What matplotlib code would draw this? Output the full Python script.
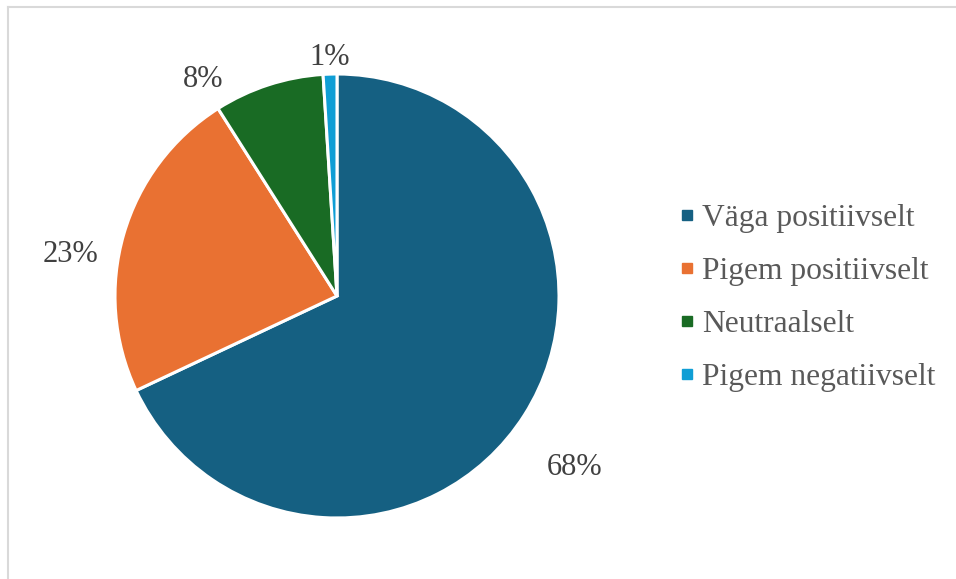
import numpy as np
import matplotlib
matplotlib.use("Agg")
import matplotlib.pyplot as plt
from matplotlib.lines import Line2D

categories = ["Väga positiivselt", "Pigem positiivselt", "Neutraalselt", "Pigem negatiivselt"]
values = [68, 23, 8, 1]
pct_labels = ["68%", "23%", "8%", "1%"]
colors = ["#156082", "#E97132", "#196B24", "#0F9ED5"]

# label placement (radial factor, angular offset in degrees)
label_dist = [1.31, 1.22, 1.16, 1.09]
label_dang = [-3.0, 6.8, 13.6, 0.3]

plt.rcParams['font.family'] = ['Liberation Serif', 'DejaVu Serif']

W, H = 956, 579
fig = plt.figure(figsize=(W / 100, H / 100), dpi=100)

cx, cy, r = 337, 296, 222
half = 1.5 * r
ax = fig.add_axes([(cx - half) / W, (H - cy - half) / H, 2 * half / W, 2 * half / H])
wedges, _ = ax.pie(values, colors=colors, startangle=90, counterclock=False,
                   wedgeprops=dict(edgecolor="white", linewidth=2.2))
ax.set_xlim(-1.5, 1.5)
ax.set_ylim(-1.5, 1.5)
ax.set_aspect("equal")
ax.axis("off")

for w, lab, d, da in zip(wedges, pct_labels, label_dist, label_dang):
    mid = np.deg2rad((w.theta1 + w.theta2) / 2 + da)
    ax.annotate(lab, (d * np.cos(mid), d * np.sin(mid)), xytext=(1, -3),
                textcoords="offset pixels", ha="center", va="center",
                fontsize=22, color="#404040", annotation_clip=False)

handles = [Line2D([], [], marker="s", linestyle="none", markersize=7.5,
                  markerfacecolor=c, markeredgecolor=c) for c in colors]
leg = fig.legend(handles, categories, loc="center left",
                 bbox_to_anchor=(679 / W, 1 - 298 / H), frameon=False,
                 fontsize=22.7, labelcolor="#595959", handlelength=0.5,
                 handletextpad=0.22, labelspacing=0.75, borderpad=0, borderaxespad=0)

# chart-area border (top and left visible)
fig.add_artist(Line2D([8 / W, 8 / W], [0, 1 - 7 / H], transform=fig.transFigure,
                      color="#d9d9d9", linewidth=1.5))
fig.add_artist(Line2D([8 / W, 955 / W], [1 - 7 / H, 1 - 7 / H], transform=fig.transFigure,
                      color="#d9d9d9", linewidth=1.5))

fig.savefig("out.png", dpi=100, facecolor="white")
